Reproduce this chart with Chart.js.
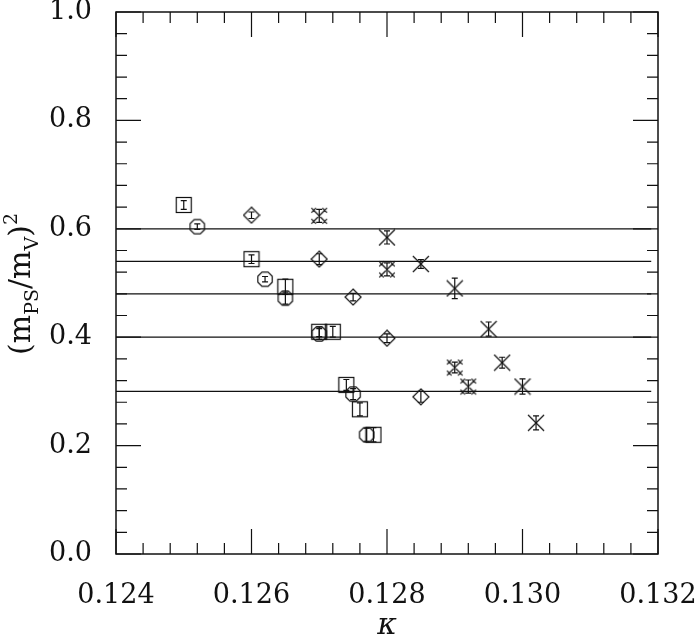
<!DOCTYPE html>
<html>
<head>
<meta charset="utf-8">
<script src="https://cdn.jsdelivr.net/npm/chart.js@4.4.1/dist/chart.umd.min.js"></script>
<style>
  html, body { margin: 0; padding: 0; background: #fff; }
  #wrap { width: 699px; height: 640px; }
</style>
</head>
<body>
<div id="wrap"><canvas id="chart" width="699" height="640"></canvas></div>
<script>
// Tick values of the axes
const xTicks = [0.124, 0.126, 0.128, 0.130, 0.132];
const yTicks = [0.0, 0.2, 0.4, 0.6, 0.8, 1.0];
const xMinorStep = 0.0004;
const yMinorStep = 0.04;

// Horizontal reference lines (m_PS/m_V)^2
const hLevels = [0.60, 0.54, 0.48, 0.40, 0.30];
const hLineKappa = [0.124, 0.1319];

// Squares
const sqKappa = [0.1250, 0.1260, 0.1265, 0.1270, 0.1272, 0.1274, 0.1276, 0.1278];
const sqRatio = [0.644, 0.544, 0.493, 0.410, 0.410, 0.312, 0.267, 0.220];
const sqErr   = [0.008, 0.008, 0.014, 0.009, 0.010, 0.010, 0.012, 0.013];

// Octagons
const ocKappa = [0.1252, 0.1262, 0.1265, 0.1270, 0.1275, 0.1277];
const ocRatio = [0.604, 0.507, 0.472, 0.406, 0.295, 0.220];
const ocErr   = [0.005, 0.005, 0.011, 0.010, 0.010, 0.012];

// Diamonds
const dmKappa = [0.1260, 0.1270, 0.1275, 0.1280, 0.1285];
const dmRatio = [0.625, 0.544, 0.474, 0.398, 0.290];
const dmErr   = [0.006, 0.010, 0.007, 0.008, 0.010];

// Crosses with little x at the tips
const fxKappa = [0.1270, 0.1280, 0.1290, 0.1292];
const fxRatio = [0.624, 0.525, 0.344, 0.309];
const fxErr   = [0.012, 0.012, 0.010, 0.012];

// Plain crosses
const pxKappa = [0.1280, 0.1285, 0.1290, 0.1295, 0.1297, 0.1300, 0.1302];
const pxRatio = [0.584, 0.535, 0.490, 0.415, 0.353, 0.309, 0.242];
const pxErr   = [0.012, 0.008, 0.019, 0.013, 0.010, 0.014, 0.013];

const INK = '#111';
const FONT = '"DejaVu Serif", "Liberation Serif", serif';

// Marker glyphs drawn once on small canvases
function makeMarker(drawFn) {
    const c = document.createElement('canvas');
    c.width = 18; c.height = 18;
    const g = c.getContext('2d');
    g.strokeStyle = INK;
    g.lineWidth = 1.2;
    drawFn(g);
    return c;
}

const squareImg = makeMarker(g => g.strokeRect(1.5, 1.5, 15, 15));
const octagonImg = makeMarker(g => {
    g.beginPath();
    for (let i = 0; i < 8; i++) {
        const a = Math.PI / 8 + i * Math.PI / 4;
        const px = 9 + 7.8 * Math.cos(a), py = 9 + 7.8 * Math.sin(a);
        if (i === 0) g.moveTo(px, py); else g.lineTo(px, py);
    }
    g.closePath();
    g.stroke();
});
const diamondImg = makeMarker(g => {
    g.beginPath();
    g.moveTo(9, 1); g.lineTo(17, 9); g.lineTo(9, 17); g.lineTo(1, 9);
    g.closePath();
    g.stroke();
});
const crossImg = makeMarker(g => {
    g.beginPath();
    g.moveTo(1, 1); g.lineTo(17, 17);
    g.moveTo(17, 1); g.lineTo(1, 17);
    g.stroke();
});
const fancyCrossImg = makeMarker(g => {
    g.beginPath();
    g.moveTo(3.5, 3.5); g.lineTo(14.5, 14.5);
    g.moveTo(14.5, 3.5); g.lineTo(3.5, 14.5);
    [[3.5, 3.5], [14.5, 3.5], [3.5, 14.5], [14.5, 14.5]].forEach(([cx, cy]) => {
        g.moveTo(cx - 2.3, cy - 2.3); g.lineTo(cx + 2.3, cy + 2.3);
        g.moveTo(cx + 2.3, cy - 2.3); g.lineTo(cx - 2.3, cy + 2.3);
    });
    g.stroke();
});

function toPoints(xs, ys) {
    return xs.map((x, i) => ({ x: x, y: ys[i] }));
}

function markerSet(xs, ys, errs, img) {
    return {
        type: 'scatter',
        data: toPoints(xs, ys),
        errors: errs,
        pointStyle: img,
        pointRadius: 8,
        pointHoverRadius: 8,
        showLine: false
    };
}

const datasets = [];
hLevels.forEach(level => {
    datasets.push({
        type: 'line',
        data: hLineKappa.map(k => ({ x: k, y: level })),
        borderColor: INK,
        borderWidth: 1.3,
        pointRadius: 0,
        fill: false
    });
});
datasets.push(markerSet(sqKappa, sqRatio, sqErr, squareImg));
datasets.push(markerSet(ocKappa, ocRatio, ocErr, octagonImg));
datasets.push(markerSet(dmKappa, dmRatio, dmErr, diamondImg));
datasets.push(markerSet(fxKappa, fxRatio, fxErr, fancyCrossImg));
datasets.push(markerSet(pxKappa, pxRatio, pxErr, crossImg));

// Error bars, frame with inward ticks, axis titles
const framePlugin = {
    id: 'frameAndErrors',
    afterDatasetsDraw(chart) {
        const ctx = chart.ctx;
        const xs = chart.scales.x, ys = chart.scales.y;
        const area = chart.chartArea;

        // error bars
        ctx.save();
        ctx.strokeStyle = INK;
        ctx.lineWidth = 1.2;
        chart.data.datasets.forEach(ds => {
            if (!ds.errors) return;
            ds.data.forEach((p, i) => {
                const px = xs.getPixelForValue(p.x);
                const top = ys.getPixelForValue(p.y + ds.errors[i]);
                const bot = ys.getPixelForValue(p.y - ds.errors[i]);
                ctx.beginPath();
                ctx.moveTo(px, top); ctx.lineTo(px, bot);
                ctx.moveTo(px - 3, top); ctx.lineTo(px + 3, top);
                ctx.moveTo(px - 3, bot); ctx.lineTo(px + 3, bot);
                ctx.stroke();
            });
        });
        ctx.restore();

        // frame
        ctx.save();
        ctx.strokeStyle = INK;
        ctx.lineWidth = 1.5;
        ctx.strokeRect(area.left, area.top, area.right - area.left, area.bottom - area.top);

        ctx.lineWidth = 1.2;
        ctx.beginPath();
        const majorLen = 25, minorLen = 11;
        for (let v = xs.min; v <= xs.max + 1e-9; v += xMinorStep) {
            const isMajor = xTicks.some(t => Math.abs(t - v) < 1e-7);
            const len = isMajor ? majorLen : minorLen;
            const px = xs.getPixelForValue(v);
            ctx.moveTo(px, area.bottom); ctx.lineTo(px, area.bottom - len);
            ctx.moveTo(px, area.top); ctx.lineTo(px, area.top + len);
        }
        for (let v = ys.min; v <= ys.max + 1e-9; v += yMinorStep) {
            const isMajor = yTicks.some(t => Math.abs(t - v) < 1e-7);
            const len = isMajor ? majorLen : minorLen;
            const py = ys.getPixelForValue(v);
            ctx.moveTo(area.left, py); ctx.lineTo(area.left + len, py);
            ctx.moveTo(area.right, py); ctx.lineTo(area.right - len, py);
        }
        ctx.stroke();
        ctx.restore();
    },
    afterDraw(chart) {
        const ctx = chart.ctx;
        const area = chart.chartArea;
        ctx.save();
        ctx.fillStyle = INK;

        // x title: kappa
        ctx.font = 'italic 30px ' + FONT;
        ctx.textAlign = 'center';
        ctx.textBaseline = 'middle';
        ctx.fillText('κ', (area.left + area.right) / 2, 626);

        // y title: (m_PS/m_V)^2, rotated
        const big = '30px ' + FONT, small = '19px ' + FONT;
        const pieces = [
            { t: '(m', f: big, dy: 0 },
            { t: 'PS', f: small, dy: 8 },
            { t: '/m', f: big, dy: 0 },
            { t: 'V', f: small, dy: 8 },
            { t: ')', f: big, dy: 0 },
            { t: '2', f: small, dy: -13 }
        ];
        let total = 0;
        pieces.forEach(p => { ctx.font = p.f; p.w = ctx.measureText(p.t).width; total += p.w; });
        ctx.translate(30, (area.top + area.bottom) / 2 + 1);
        ctx.rotate(-Math.PI / 2);
        ctx.textAlign = 'left';
        ctx.textBaseline = 'alphabetic';
        let cx = -total / 2;
        pieces.forEach(p => {
            ctx.font = p.f;
            ctx.fillText(p.t, cx, p.dy);
            cx += p.w;
        });
        ctx.restore();
    }
};

new Chart(document.getElementById('chart'), {
    data: { datasets: datasets },
    plugins: [framePlugin],
    options: {
        responsive: false,
        animation: false,
        events: [],
        layout: { padding: { left: 0, right: 41, top: 12, bottom: 0 } },
        plugins: {
            legend: { display: false },
            tooltip: { enabled: false }
        },
        scales: {
            x: {
                type: 'linear',
                min: 0.124,
                max: 0.132,
                afterBuildTicks: s => { s.ticks = xTicks.map(v => ({ value: v })); },
                afterFit: s => { s.height = 86; s.paddingLeft = 0; s.paddingRight = 0; },
                grid: { display: false },
                border: { display: false },
                ticks: {
                    color: INK,
                    padding: 18,
                    maxRotation: 0,
                    font: { family: FONT, size: 27 },
                    callback: v => Number(v).toFixed(3)
                }
            },
            y: {
                type: 'linear',
                min: 0,
                max: 1,
                afterBuildTicks: s => { s.ticks = yTicks.map(v => ({ value: v })); },
                afterFit: s => { s.width = 116; s.paddingTop = 0; s.paddingBottom = 0; },
                grid: { display: false },
                border: { display: false },
                ticks: {
                    color: INK,
                    padding: 16,
                    font: { family: FONT, size: 27 },
                    callback: v => Number(v).toFixed(1)
                }
            }
        }
    }
});
</script>
</body>
</html>
